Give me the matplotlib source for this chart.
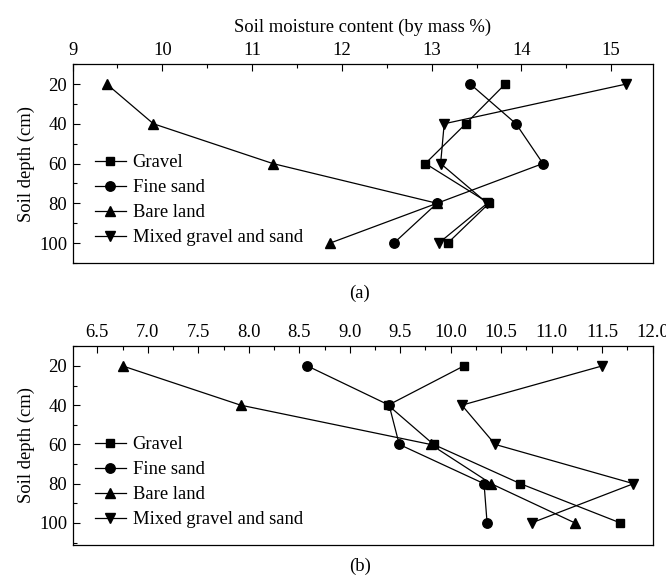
import matplotlib.pyplot as plt
from matplotlib.ticker import MultipleLocator

plt.rcParams['font.family'] = 'Liberation Serif'
plt.rcParams['font.size'] = 13.4

# soil depth (cm)
depth = [20, 40, 60, 80, 100]
labels = ['Gravel', 'Fine sand', 'Bare land', 'Mixed gravel and sand']
markers = ['s', 'o', '^', 'v']
msizes = [6.3, 6.8, 7.3, 7.3]

# panel (a) soil moisture (by mass %)
gravel_a = [13.82, 13.38, 12.93, 13.64, 13.18]
fine_a = [13.43, 13.94, 14.24, 13.06, 12.58]
bare_a = [9.38, 9.90, 11.23, 13.06, 11.87]
mixed_a = [15.17, 13.14, 13.10, 13.62, 13.08]

# panel (b)
gravel_b = [10.13, 9.38, 9.83, 10.69, 11.68]
fine_b = [8.58, 9.39, 9.49, 10.33, 10.36]
bare_b = [6.75, 7.92, 9.80, 10.40, 11.23]
mixed_b = [11.50, 10.11, 10.44, 11.81, 10.80]

fig = plt.figure(figsize=(6.66, 5.83), dpi=100)
ax_a = fig.add_axes([0.109, 0.549, 0.872, 0.341])
ax_b = fig.add_axes([0.109, 0.066, 0.871, 0.340])


def draw_panel(ax, series, xlim, ylim, major, minor):
    for vals, lab, m, ms in zip(series, labels, markers, msizes):
        ax.plot(vals, depth, color='black', lw=0.9, marker=m, ms=ms,
                mfc='black', mec='black', label=lab)
    ax.set_xlim(*xlim)
    ax.set_ylim(*ylim)
    ax.xaxis.tick_top()
    ax.xaxis.set_major_locator(MultipleLocator(major))
    ax.xaxis.set_minor_locator(MultipleLocator(minor))
    ax.yaxis.set_major_locator(MultipleLocator(20))
    ax.yaxis.set_minor_locator(MultipleLocator(10))
    ax.tick_params(which='both', direction='in', top=True, bottom=False,
                   left=True, right=False, width=0.8)
    ax.tick_params(which='major', length=5, pad=4)
    ax.tick_params(which='minor', length=3)
    for sp in ax.spines.values():
        sp.set_linewidth(0.9)
    ax.set_ylabel('Soil depth (cm)', labelpad=3)
    ax.legend(loc='center left', bbox_to_anchor=(0.038, 0.315), frameon=False,
              borderpad=0, borderaxespad=0, handlelength=1.7,
              handletextpad=0.34, labelspacing=0.43)


draw_panel(ax_a, [gravel_a, fine_a, bare_a, mixed_a], (9, 15.47), (110, 10), 1, 0.5)
ax_a.xaxis.set_label_position('top')
ax_a.set_xlabel('Soil moisture content (by mass %)', labelpad=7)

draw_panel(ax_b, [gravel_b, fine_b, bare_b, mixed_b], (6.255, 12.0), (111, 10), 0.5, 0.25)
ax_b.xaxis.set_major_formatter(plt.FormatStrFormatter('%.1f'))

fig.text(0.54, 1 - 293 / 583, '(a)', ha='center', va='center')
fig.text(0.54, 1 - 566 / 583, '(b)', ha='center', va='center')

fig.savefig('out.png', dpi=100)
